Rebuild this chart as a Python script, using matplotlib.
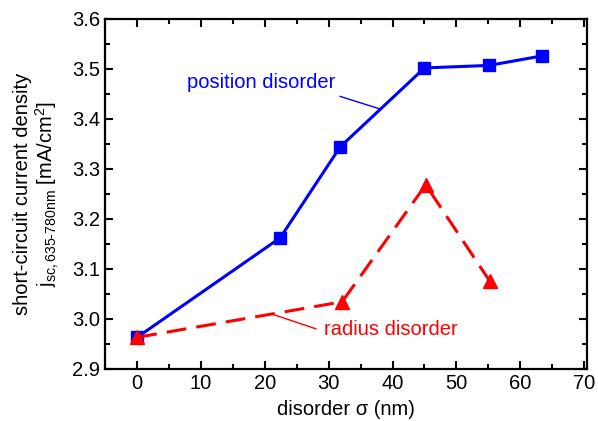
import matplotlib.pyplot as plt
from matplotlib.ticker import MultipleLocator

plt.rcParams['font.family'] = ['Liberation Sans', 'DejaVu Sans']
plt.rcParams['mathtext.fontset'] = 'custom'
plt.rcParams['mathtext.rm'] = 'Liberation Sans'
plt.rcParams['mathtext.it'] = 'Liberation Sans'

# position disorder (blue squares)
pos_x = [0, 22.4, 31.8, 45.0, 55.1, 63.4]
pos_y = [2.963, 3.162, 3.344, 3.502, 3.507, 3.526]

# radius disorder (red triangles)
rad_x = [0, 32.1, 45.2, 55.2]
rad_y = [2.963, 3.034, 3.268, 3.076]

fs = 14.5

fig = plt.figure(figsize=(5.98, 4.21), dpi=100)
ax = fig.add_axes([0.176, 0.124, 0.806, 0.831])

ax.plot(pos_x, pos_y, '-', color='blue', lw=2.2,
        marker='s', ms=8, zorder=3)
ax.plot(rad_x, rad_y, '--', color='red', lw=2.2, dashes=(6.5, 3.3),
        marker='^', ms=10, zorder=4)

# labels with pointer lines
ax.text(7.8, 3.473, 'position disorder', color='blue', fontsize=fs, va='center')
ax.plot([31.8, 38.0], [3.445, 3.42], color='blue', lw=1)
ax.text(29.3, 2.979, 'radius disorder', color='red', fontsize=fs, va='center')
ax.plot([28.0, 21.0], [2.98, 3.01], color='red', lw=1)

ax.set_xlim(-5, 70.5)
ax.set_ylim(2.9, 3.6)
ax.xaxis.set_major_locator(MultipleLocator(10))
ax.xaxis.set_minor_locator(MultipleLocator(5))
ax.yaxis.set_major_locator(MultipleLocator(0.1))
ax.yaxis.set_minor_locator(MultipleLocator(0.05))
ax.tick_params(which='both', direction='in', top=True, right=True,
               labelsize=fs, width=1.5)
ax.tick_params(which='major', length=6)
ax.tick_params(which='minor', length=3.5)
for s in ax.spines.values():
    s.set_linewidth(1.6)

ax.set_xlabel('disorder σ (nm)', fontsize=fs, labelpad=5)
ax.set_ylabel('short-circuit current density\n'
              r'j$_\mathregular{sc,635\text{-}780nm}$ [mA/cm$^2$]',
              fontsize=fs, labelpad=8, linespacing=1.1)

fig.savefig('out.png', dpi=100)
